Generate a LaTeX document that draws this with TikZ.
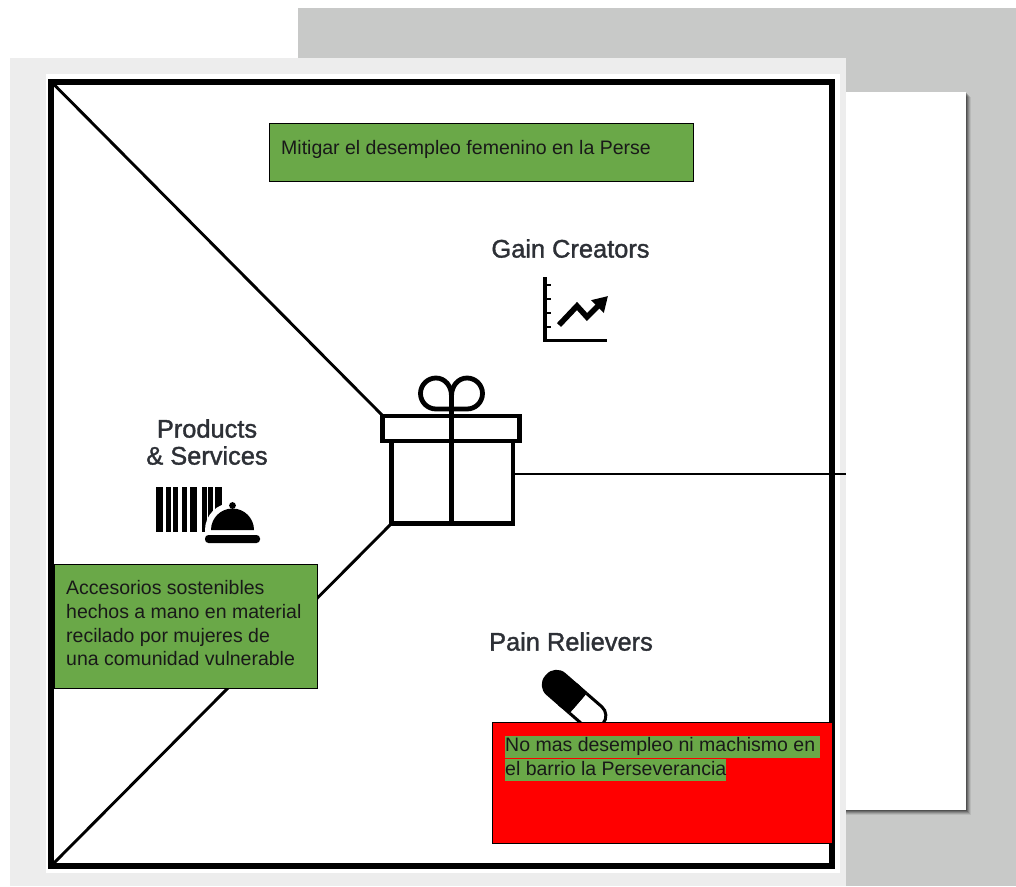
\documentclass[tikz,border=0pt]{standalone}
\usepackage{fontspec}
\setmainfont{Liberation Sans}
\newfontfamily\vpctitlefont[FakeBold=1.4]{Liberation Sans}
\usetikzlibrary{arrows.meta,positioning,calc}
\definecolor{VpcGray}{RGB}{200,201,200}
\definecolor{VpcPanel}{RGB}{237,237,237}
\definecolor{VpcGreen}{RGB}{106,168,72}
\definecolor{VpcRed}{RGB}{255,0,0}
\definecolor{VpcInk}{RGB}{45,48,54}
\tikzset{
  vpc/sheet/.style={draw=none, inner sep=0pt, outer sep=0pt, anchor=north west},
  vpc/box/.style={
    draw=black,
    line width=0.8pt,
    inner sep=0pt,
    outer sep=0pt,
    anchor=north west
  },
  vpc/text/.style={
    anchor=north west,
    inner sep=0pt,
    align=left,
    text=black!90,
    font=\fontsize{19.5}{23.7}\selectfont
  },
  vpc/mark/.style={
    anchor=north west,
    inner xsep=0pt,
    inner ysep=0pt,
    fill=VpcGreen,
    text=black!90,
    text height=16pt,
    text depth=6pt,
    font=\fontsize{19.5}{23.7}\selectfont
  },
  vpc/title/.style={
    inner sep=0pt,
    align=center,
    text=VpcInk,
    font=\vpctitlefont\fontsize{25.4}{27}\selectfont
  },
  vpc/line/.style={draw=black, line width=2.9pt},
  vpc/gift/.style={draw=black, line width=4.8pt},
  vpc/icon/.style={draw=black, line width=3.6pt}
}
\begin{document}
\begin{tikzpicture}[x=1pt,y=-1pt]
  \useasboundingbox (0,0) rectangle (1016,886);
  \fill[white] (0,0) rectangle (1016,886);
  \fill[VpcGray] (298,8) rectangle (1016,886);
  \foreach \o/\a in {5/0.08,4/0.12,3/0.16,2/0.2,1/0.25}{
    \fill[black,opacity=\a] (840,92+\o) rectangle (966+\o,810+\o);
  }
  \node[vpc/sheet,fill=white,minimum width=126pt,minimum height=718pt] (sheet) at (840,92) {};
  \node[vpc/sheet,fill=VpcPanel,minimum width=836pt,minimum height=828pt] (panel) at (10,58) {};
  \node[vpc/sheet,fill=white,minimum width=794pt,minimum height=799pt] (paper) at (46,74) {};
  \node[draw=black,line width=6pt,inner sep=0pt,outer sep=0pt,anchor=north west,minimum width=780.5pt,minimum height=784.5pt] (frame) at (51,81.5) {};

  \coordinate (lidnw) at (383,416);
  \coordinate (basesw) at (391,524);
  \coordinate (baseeast) at (513,474);
  \coordinate (paneleast) at (846,474);
  \draw[vpc/line] (frame.north west) -- (lidnw);
  \draw[vpc/line] (frame.south west) -- (basesw);
  \draw[vpc/line] (baseeast) -- (paneleast);

  \draw[vpc/gift] (382.5,416) rectangle (519.5,441);
  \draw[vpc/gift] (391.5,441) rectangle (513,523.5);
  \draw[vpc/gift] (451.5,396) -- (451.5,523.5);
  \draw[vpc/gift] (451.5,409) -- (436,409) arc[start angle=270,end angle=90,radius=15.5pt] .. controls (445,378) and (451.5,386) .. (451.5,396);
  \draw[vpc/gift] (451.5,409) -- (467,409) arc[start angle=-90,end angle=90,radius=15.5pt] .. controls (458,378) and (451.5,386) .. (451.5,396);

  \node[vpc/title] (gain) at (570.5,248.5) {Gain Creators};
  \draw[vpc/icon] (545,277) -- (545,340.5) -- (607,340.5);
  \foreach \y in {285,299,313,327}{
    \draw[black,line width=2.6pt] (545,\y) -- (550.5,\y);
  }
  \draw[black,line width=5.6pt,-{Triangle[length=15pt,width=17pt]}] (559,325) -- (577,306) -- (587,317) -- (608,296);

  \node[vpc/title] (products) at (207,442) {Products\\\& Services};
  \foreach \xa/\xb in {155.5/162.5,166/171,173/178,181.5/187,189.5/197,201.5/206.5,208/213,215/222}{
    \fill[black] (\xa,487) rectangle (\xb,532);
  }
  \fill[white] (205,534) -- (205,530) arc[start angle=180,end angle=0,radius=27pt] -- (259,534) -- cycle;
  \fill[black] (211,530) arc[start angle=180,end angle=0,radius=21.5pt] -- cycle;
  \fill[black] (232.5,505.5) circle[radius=3.4pt];
  \fill[black,rounded corners=3.5pt] (205,535) rectangle (260,543);

  \node[vpc/title] (pain) at (571,641.5) {Pain Relievers};
  \begin{scope}[shift={(557,685)},rotate=-41]
    \fill[black,rounded corners=13.5pt] (-15,-14.5) rectangle (30,14.5);
    \draw[black,line width=3pt,fill=white,rounded corners=12pt] (28,-13) -- (60,-13) -- (60,13) -- (28,13);
    \fill[black] (14,-14.5) rectangle (28,14.5);
  \end{scope}

  \node[vpc/box,fill=VpcGreen,minimum width=424.5pt,minimum height=58pt] (target) at (269,123) {};
  \node[vpc/text] (targettext) at (281,140.5) {Mitigar el desempleo femenino en la Perse};
  \node[vpc/box,fill=VpcGreen,minimum width=263pt,minimum height=124pt] (offer) at (54,564) {};
  \node[vpc/text] (offertext) at (66,580.5) {Accesorios sostenibles\\hechos a mano en material\\recilado por mujeres de\\una comunidad vulnerable};
  \node[vpc/box,fill=VpcRed,minimum width=340pt,minimum height=121pt] (pains) at (492.5,722) {};
  \node[vpc/mark] (painsa) at (505,735.5) {\makebox[315pt][l]{No mas desempleo ni machismo en}};
  \node[vpc/mark] (painsb) at (505,759) {el barrio la Perseverancia};
\end{tikzpicture}
\end{document}
